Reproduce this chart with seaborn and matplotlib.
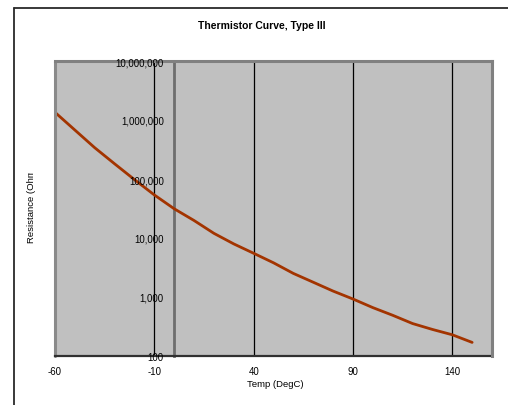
import matplotlib
matplotlib.use("Agg")
import matplotlib.pyplot as plt
import seaborn as sns
import pandas as pd
from matplotlib.lines import Line2D
from matplotlib.transforms import Bbox
from matplotlib.ticker import FixedLocator, FuncFormatter, NullLocator

# ---- data ----
temps = [-60, -50, -40, -30, -20, -10, 0, 10, 20, 30, 40, 50,
         60, 70, 80, 90, 100, 110, 120, 130, 140, 150]
resistance = [1349000, 676000, 339000, 181000, 97700, 53700, 31300, 19800,
              12000, 7940, 5510, 3800, 2510, 1780, 1260, 925, 661, 490,
              355, 282, 229, 170]
x_ticks = [-60, -10, 40, 90, 140]
y_ticks = [100, 1000, 10000, 100000, 1000000, 10000000]
title = "Thermistor Curve, Type III"
x_label = "Temp (DegC)"
y_label = "Resistance (Ohms)"

sns.set_style("white")
plt.rcParams['font.family'] = ['Liberation Sans', 'DejaVu Sans']

W, H = 508, 406
fig = plt.figure(figsize=(W / 100, H / 100), dpi=100)
fig.patch.set_facecolor("white")

# outer chart frame (left and top visible)
fx = 14 / W
fy = 1 - 9 / H
fig.add_artist(Line2D([fx, fx], [0, fy], color="#2a2a2a", lw=1.3))
fig.add_artist(Line2D([fx, 1], [fy, fy], color="#2a2a2a", lw=1.3))

l, r, t, b = 55 / W, 492 / W, 1 - 62 / H, 1 - 357 / H
ax = fig.add_axes([l, b, r - l, t - b])
ax.set_facecolor("#C0C0C0")

df = pd.DataFrame({"temp": temps, "res": resistance})
sns.lineplot(data=df, x="temp", y="res", ax=ax, color="#A33400",
             linewidth=2.0, legend=False)

ax.set_yscale("log")
ax.set_xlim(-60, 160)
ax.set_ylim(100, 10000000)

ax.xaxis.set_major_locator(FixedLocator(x_ticks))
ax.yaxis.set_major_locator(FixedLocator(y_ticks))
ax.yaxis.set_minor_locator(NullLocator())
ax.xaxis.set_minor_locator(NullLocator())
ax.yaxis.set_major_formatter(FuncFormatter(lambda v, p: f"{int(round(v)):,}"))
ax.xaxis.set_major_formatter(FuncFormatter(lambda v, p: f"{int(v)}"))

# vertical gridlines
ax.grid(False)
for xv in x_ticks[1:]:
    ax.axvline(xv, color="#000000", lw=0.9, zorder=1)

# spines
ax.spines["left"].set_position(("data", 0))
ax.spines["left"].set_color("#6e6e6e")
ax.spines["left"].set_linewidth(2.0)
ax.spines["left"].set_zorder(1.5)
ax.spines["top"].set_color("#808080")
ax.spines["top"].set_linewidth(2.2)
ax.spines["top"].set_zorder(2.2)
ax.spines["right"].set_color("#808080")
ax.spines["right"].set_linewidth(2.2)
ax.spines["bottom"].set_color("#303030")
ax.spines["bottom"].set_linewidth(1.6)
ax.spines["bottom"].set_zorder(2.2)
for sp in ax.spines.values():
    sp.set_visible(True)

# left border of plot area
ax.plot([0, 0], [0, 1], transform=ax.transAxes, color="#8a8a8a", lw=2.2,
        clip_on=False, zorder=2.2)

ax.tick_params(axis="both", which="major", direction="out", length=2.5,
               width=1.0, color="#202020", labelsize=6.9, labelcolor="#000000")
ax.tick_params(axis="y", pad=5.0)
ax.tick_params(axis="x", pad=4.5)
ax.set_xlabel("")
ax.set_ylabel("")
ax.yaxis.set_zorder(6)
ax.xaxis.set_zorder(6)

# title and axis titles
fig.text(262 / W, 1 - 26 / H, title, ha="center", va="center",
         fontsize=7.5, fontweight="bold", color="#000000")
fig.text(275 / W, 1 - 385 / H, x_label, ha="center", va="center",
         fontsize=6.8, color="#000000")
yl = fig.text(31.7 / W, 1 - 243 / H, y_label, ha="center", va="bottom",
              rotation=90, fontsize=6.8, color="#000000")
yl.set_clip_box(Bbox([[0, 0], [W, H - 174]]))
yl.set_clip_on(True)

fig.savefig("out.png", dpi=100)
